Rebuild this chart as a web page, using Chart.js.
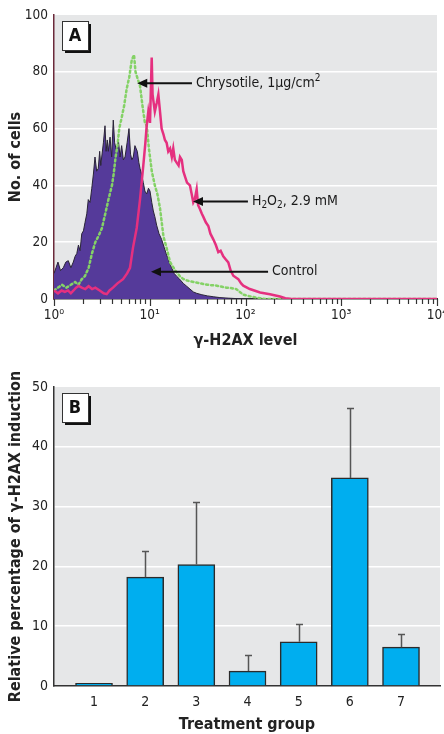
<!DOCTYPE html>
<html>
<head>
<meta charset="utf-8">
<script src="https://cdn.jsdelivr.net/npm/chart.js@4.4.1/dist/chart.umd.min.js"></script>
<style>
  html, body { margin:0; padding:0; background:#fff; overflow:hidden; width:444px; height:734px; }
  #wrapA { position:absolute; left:0; top:0; }
  #wrapB { position:absolute; left:0; top:360px; }
</style>
</head>
<body>
<div id="wrapA"><canvas id="chartA" width="460" height="350"></canvas></div>
<div id="wrapB"><canvas id="chartB" width="444" height="374"></canvas></div>
<script>
// ---- panel A : flow cytometry histograms (x = gamma-H2AX level, log) ----
const ctrlX = [1.0,1.05,1.1,1.17,1.25,1.33,1.41,1.5,1.59,1.66,1.73,1.8,1.87,1.95,2.03,2.11,2.2,2.28,2.38,2.48,
  2.58,2.68,2.79,2.9,3.0,3.08,3.15,3.28,3.41,3.5,3.6,3.69,3.85,4.0,4.16,4.3,4.51,4.7,4.9,5.09,
  5.3,5.52,5.8,6.07,6.3,6.5,6.73,7.0,7.41,7.7,7.91,8.2,8.56,8.9,9.29,9.7,10.06,10.5,10.9,11.3,
  11.8,12.5,13.3,14.2,15.0,16.0,16.9,18.0,19.1,20.5,22.4,24.3,26.3,28.5,30.9,35,40,46,54,66,85,110,10000];
const ctrlY = [9,11,13,10,11,13,13.5,11,13,15,16,19,17,23,24,27,30,35,34,39,
  44,50,45,46,52,47,50,55,61,52,56,52,57,50,63,55,52,56,50,54,
  49,50,55,60,51,49,50,54,52,48,46,44,41,38,37,39,38,34,31,29,
  26,23,21,18,15.5,13,11,9,8,7,5.5,4.5,3.5,2.5,2,1.5,1.1,0.8,0.5,0.3,0.1,0,0];

const chrysX = [1.0,1.1,1.21,1.35,1.5,1.66,1.8,1.95,2.1,2.3,2.49,2.7,2.9,3.17,3.43,3.7,4.03,4.2,4.4,4.6,
  4.8,5.1,5.4,5.74,6.1,6.48,6.85,7.1,7.4,7.91,8.4,8.9,9.3,9.8,10.5,11.3,12.0,12.8,13.9,15.0,
  16.3,18.5,20.7,22.5,24.5,28.5,34,40,50,63,72,80,95,110,130,160,10000];
const chrysY = [3,4,5,4,5,6,5,7,8,11,16,20,22,25,30,35,40,44,50,54,
  60,64,68,74,78,84,86,80,78,75,68,62,61,53,45,40,37,32,22,18,
  13,10,8,7,6.5,6,5.5,5,4.7,4,3.8,3.5,1.5,1,0.5,0,0];

const h2o2X = [1.0,1.1,1.2,1.3,1.4,1.5,1.6,1.7,1.81,1.95,2.12,2.3,2.5,2.7,3.0,3.3,3.55,3.8,4.13,4.6,
  5.26,5.8,6.22,6.68,7.31,7.91,8.56,9.0,9.29,9.66,10.06,10.48,10.7,10.89,11.3,11.82,12.3,12.8,13.3,13.9,
  14.4,15.0,15.6,16.3,17.0,17.6,18.3,19.1,20.0,20.7,21.6,22.4,23.4,24.5,26.3,27.4,28.5,29.5,30.9,32,
  33.5,35,36.2,38.5,40.9,43,46.1,49,52,55,58.6,62,66.1,70,74.6,80,84.1,90,94.8,111,
  142,180,229,260,300,10000];
const h2o2Y = [3,2,3,2.5,3,2,3,4,4.6,4,3.5,4.5,3.5,4,3,2,1.7,3,4,5.5,
  7,9,11,18,25,35,47,55,61,66,62,85,72,70,66,69,72,66,60,58,
  56,55,52,53,50,53,49,48,47,50,49,45,43,41,40,37,34,35,38.6,33,
  31.6,30,29,27,25.7,23,21,19,16.5,17,15,14,12.9,10,8.2,7.5,7,5.5,4.7,3.5,
  2.3,1.7,0.9,0.3,0,0];

const decades = [1, 10, 100, 1000, 10000];
const decadeLabels = ['10\u2070', '10\u00b9', '10\u00b2', '10\u00b3', '10\u2074'];

// arrows + labels in panel A (positions in data units)
const notes = [
  { parts: [['Chrysotile, 1\u03bcg/cm', 0], ['2', 1]], tipX: 7.4, tipY: 76, tailX: 27.6 },
  { parts: [['H', 0], ['2', -1], ['O', 0], ['2', -1], [', 2.9 mM', 0]], tipX: 28.3, tipY: 34.3, tailX: 106 },
  { parts: [['Control', 0]], tipX: 10.3, tipY: 9.6, tailX: 172 }
];

// ---- panel B : bar chart ----
const groups = [1, 2, 3, 4, 5, 6, 7];
const induction = [0.45, 18.2, 20.3, 2.5, 7.4, 34.8, 6.5];
const inductionErr = [0, 4.4, 10.4, 2.7, 3.0, 11.7, 2.15];

const FONT = "'Liberation Sans Narrow', 'DejaVu Sans Condensed', 'Liberation Sans', sans-serif";
Chart.defaults.font.family = FONT;
Chart.defaults.color = '#222';

// minor + major ticks for the log axis
var xTickVals = [];
for (var d = 0; d < decades.length - 1; d++) {
  for (var m = 1; m < 10; m++) xTickVals.push(decades[d] * m);
}
xTickVals.push(decades[decades.length - 1]);

function pts(xs, ys) {
  return xs.map(function (x, i) { return { x: x, y: ys[i] }; });
}

const plotBg = {
  id: 'plotBg',
  beforeDraw(chart) {
    const a = chart.chartArea, c = chart.ctx;
    c.save();
    c.fillStyle = '#e6e7e8';
    c.fillRect(a.left, a.top, a.right - a.left, a.bottom - a.top);
    c.restore();
  }
};

const panelLetter = {
  id: 'panelLetter',
  afterDraw(chart, args, opts) {
    const a = chart.chartArea, c = chart.ctx;
    const x = a.left + 8, y = a.top + 6, w = 26, h = 29;
    c.save();
    c.fillStyle = '#111';
    c.fillRect(x + 3, y + 3, w, h);
    c.fillStyle = '#fff';
    c.fillRect(x, y, w, h);
    c.strokeStyle = '#333';
    c.lineWidth = 1;
    c.strokeRect(x + 0.5, y + 0.5, w, h);
    c.fillStyle = '#111';
    c.font = 'bold 18px ' + FONT;
    c.textAlign = 'center';
    c.textBaseline = 'middle';
    c.fillText(opts.text, x + w / 2, y + h / 2 + 1);
    c.restore();
  }
};

// tick marks below the log axis, longer at decades
const logTicks = {
  id: 'logTicks',
  afterDraw(chart) {
    const s = chart.scales.x, c = chart.ctx;
    c.save();
    c.strokeStyle = '#333';
    c.lineWidth = 1.2;
    s.ticks.forEach(function (t) {
      const px = Math.round(s.getPixelForValue(t.value)) + 0.5;
      const len = decades.indexOf(t.value) >= 0 ? 7 : 5;
      c.beginPath();
      c.moveTo(px, s.top);
      c.lineTo(px, s.top + len);
      c.stroke();
    });
    c.restore();
  }
};

const arrows = {
  id: 'arrows',
  afterDatasetsDraw(chart) {
    const xs = chart.scales.x, ys = chart.scales.y, c = chart.ctx;
    c.save();
    notes.forEach(function (n) {
      const tx = xs.getPixelForValue(n.tipX), ty = ys.getPixelForValue(n.tipY);
      const ex = xs.getPixelForValue(n.tailX);
      c.strokeStyle = '#111';
      c.fillStyle = '#111';
      c.lineWidth = 2;
      c.beginPath();
      c.moveTo(tx + 8, ty);
      c.lineTo(ex, ty);
      c.stroke();
      c.beginPath();
      c.moveTo(tx, ty);
      c.lineTo(tx + 10, ty - 4.5);
      c.lineTo(tx + 10, ty + 4.5);
      c.closePath();
      c.fill();
      // label with sub/superscripts
      let x = ex + 4;
      c.textBaseline = 'middle';
      c.textAlign = 'left';
      n.parts.forEach(function (p) {
        const small = p[1] !== 0;
        c.font = (small ? '10px ' : '14px ') + FONT;
        const dy = p[1] === 1 ? -5 : (p[1] === -1 ? 4 : 0);
        c.fillStyle = '#1a1a1a';
        c.fillText(p[0], x, ty + dy);
        x += c.measureText(p[0]).width;
      });
    });
    c.restore();
  }
};

const errorBars = {
  id: 'errorBars',
  afterDatasetsDraw(chart) {
    const xs = chart.scales.x, ys = chart.scales.y, c = chart.ctx;
    c.save();
    c.strokeStyle = '#555';
    c.lineWidth = 1.5;
    groups.forEach(function (g, i) {
      if (!inductionErr[i]) return;
      const px = Math.round(xs.getPixelForValue(g)) + 0.5;
      const y0 = ys.getPixelForValue(induction[i]);
      const y1 = Math.round(ys.getPixelForValue(induction[i] + inductionErr[i])) + 0.5;
      c.beginPath();
      c.moveTo(px, y0);
      c.lineTo(px, y1);
      c.moveTo(px - 3.5, y1);
      c.lineTo(px + 3.5, y1);
      c.stroke();
    });
    c.restore();
  }
};

const whiteGrid = function (lo, hi) {
  return function (ctx) {
    return (ctx.tick && ctx.tick.value > lo && ctx.tick.value < hi) ? '#ffffff' : 'rgba(0,0,0,0)';
  };
};

new Chart(document.getElementById('chartA'), {
  type: 'line',
  data: {
    datasets: [
      { label: 'Control', data: pts(ctrlX, ctrlY), order: 3, fill: 'origin',
        backgroundColor: '#553a9a', borderColor: '#2a2438', borderWidth: 1,
        pointRadius: 0, tension: 0 },
      { label: 'Chrysotile', data: pts(chrysX, chrysY), order: 2, fill: false,
        borderColor: '#84d266', borderWidth: 2.5, borderDash: [2, 3], borderCapStyle: 'round',
        pointRadius: 0, tension: 0 },
      { label: 'H2O2', data: pts(h2o2X, h2o2Y), order: 1, fill: false,
        borderColor: '#e5307f', borderWidth: 2.5,
        pointRadius: 0, tension: 0 }
    ]
  },
  options: {
    responsive: false,
    animation: false,
    layout: { padding: { left: 6, top: 15, right: 23, bottom: 0 } },
    plugins: { legend: { display: false }, tooltip: { enabled: false }, panelLetter: { text: 'A' } },
    scales: {
      x: {
        type: 'logarithmic', min: 1, max: 10000,
        afterBuildTicks: function (s) { s.ticks = xTickVals.map(function (v) { return { value: v }; }); },
        ticks: {
          autoSkip: false, maxRotation: 0, padding: 8, font: { size: 13.5 },
          callback: function (v) { const k = decades.indexOf(v); return k >= 0 ? decadeLabels[k] : ''; }
        },
        grid: { drawOnChartArea: false, drawTicks: false },
        border: { color: '#333', width: 1.5 },
        title: { display: true, text: '\u03b3-H2AX level', font: { size: 16, weight: 'bold' }, padding: 0 },
        afterFit: function (s) { s.height = 51; }
      },
      y: {
        min: 0, max: 100,
        ticks: { stepSize: 20, padding: 6, font: { size: 13.5 } },
        grid: { color: whiteGrid(0, 100), lineWidth: 1.5, drawTicks: false },
        border: { color: '#6b2a3a', width: 1.5 },
        title: { display: true, text: 'No. of cells', font: { size: 16, weight: 'bold' }, padding: 0 },
        afterFit: function (s) { s.width = 48; }
      }
    }
  },
  plugins: [plotBg, logTicks, arrows, panelLetter]
});

new Chart(document.getElementById('chartB'), {
  type: 'bar',
  data: {
    datasets: [{
      label: 'Relative percentage',
      data: pts(groups, induction),
      backgroundColor: '#00aeef', borderColor: '#2b2b2b', borderWidth: 1.5,
      barThickness: 37
    }]
  },
  options: {
    responsive: false,
    animation: false,
    layout: { padding: { left: 6, top: 27, right: 4, bottom: 0 } },
    plugins: { legend: { display: false }, tooltip: { enabled: false }, panelLetter: { text: 'B' } },
    scales: {
      x: {
        type: 'linear', min: 0.218, max: 7.762, offset: false,
        afterBuildTicks: function (s) { s.ticks = groups.map(function (v) { return { value: v }; }); },
        ticks: { padding: 8, font: { size: 14 } },
        grid: { drawOnChartArea: false, drawTicks: false },
        border: { color: '#333', width: 1.5 },
        title: { display: true, text: 'Treatment group', font: { size: 16, weight: 'bold' }, padding: 0 },
        afterFit: function (s) { s.height = 48; }
      },
      y: {
        min: 0, max: 50,
        ticks: { stepSize: 10, padding: 6, font: { size: 14 } },
        grid: { color: whiteGrid(0, 50), lineWidth: 1.5, drawTicks: false },
        border: { color: '#333', width: 1.5 },
        title: { display: true, text: 'Relative percentage of \u03b3-H2AX induction', font: { size: 16, weight: 'bold' }, padding: 0 },
        afterFit: function (s) { s.width = 48; }
      }
    }
  },
  plugins: [plotBg, errorBars, panelLetter]
});
</script>
</body>
</html>
